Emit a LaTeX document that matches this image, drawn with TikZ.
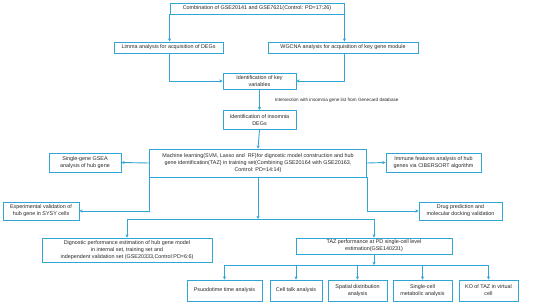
\documentclass[tikz,border=0pt]{standalone}
\usepackage{fontspec}
\setmainfont{Liberation Sans}
\usetikzlibrary{arrows.meta}
\definecolor{lineblue}{RGB}{50,165,215}
\begin{document}
\begin{tikzpicture}[x=1pt,y=-1pt,
  box/.style={draw=lineblue,line width=0.9pt,fill=white,inner sep=0pt,align=center,
    font=\fontsize{5.4}{7}\selectfont,text=black!85},
  conn/.style={draw=lineblue,line width=0.9pt},
  arr/.style={conn,-{Stealth[length=3.2pt,width=3.2pt]}},
  lbl/.style={font=\fontsize{4.6}{6}\selectfont,text=black!85,inner sep=0pt,anchor=west}]
\useasboundingbox (0,0) rectangle (553,302);
\fill[white] (0,0) rectangle (553,302);
\node[box,minimum width=174pt,minimum height=11pt] (top) at (257,8.5) {Combination of GSE20141 and GSE7621(Control: PD=17:26)};
\node[box,minimum width=109pt,minimum height=11pt] (limma) at (168.5,47.5) {Limma analysis for acquisition of DEGs};
\node[box,minimum width=150pt,minimum height=11pt] (wgcna) at (343,47.5) {WGCNA analysis for acquisition of key gene module};
\node[box,minimum width=73pt,minimum height=16pt] (key) at (259.5,81) {Identification of key\\variables};
\node[box,minimum width=73pt,minimum height=19pt] (degs) at (259.5,120) {Identification of insomnia\\DEGs};
\node[box,minimum width=217pt,minimum height=28pt] (ml) at (258,163) {Machine learning(SVM, Lasso and\ \ RF)for dignostic model construction and hub\\gene identification(TAZ) in training set(Combining GSE20164 with GSE20163,\\Control: PD=14:14)};
\node[box,minimum width=72pt,minimum height=19pt] (gsea) at (85,162.5) {Single-gene GSEA\\analysis of hub gene};
\node[box,minimum width=95pt,minimum height=19pt] (immune) at (433.5,162.5) {Immune features analysis of hub\\genes via CIBERSORT algorithm};
\node[box,minimum width=76pt,minimum height=18pt] (exp) at (41,211) {Experimental validation of\\hub gene in SYSY cells};
\node[box,minimum width=83pt,minimum height=18pt] (drug) at (460.5,211) {Drug prediction and\\molecular docking validation};
\node[box,minimum width=170pt,minimum height=24pt] (dig) at (127,250) {Dignostic performance estimation of hub gene model\\in internal set, training set and\\independent validation set (GSE20333,Control:PD=6:6)};
\node[box,minimum width=156pt,minimum height=16pt] (taz) at (374,246) {TAZ performance at PD single-cell level\\estimation(GSE140231)};
\node[box,minimum width=75pt,minimum height=21pt] (b1) at (224.5,290.5) {Psuodotime time analysis};
\node[box,minimum width=52pt,minimum height=21pt] (b2) at (296,290.5) {Cell talk analysis};
\node[box,minimum width=59pt,minimum height=21pt] (b3) at (357.5,290.5) {Spatial distribution\\analysis};
\node[box,minimum width=59pt,minimum height=21pt] (b4) at (422.5,290.5) {Single-cell\\metabolic analysis};
\node[box,minimum width=59pt,minimum height=21pt] (b5) at (488.5,290.5) {KO of TAZ in virtual\\cell};
\coordinate (j1) at (258,219);
\coordinate (j2) at (374,265);
% top split
\draw[arr] (top.south west) -- (top.south west |- limma.north);
\draw[arr] (top.south east) -- (top.south east |- wgcna.north);
\draw[arr] (limma.south -| top.south west) |- (key.west);
\draw[arr] (wgcna.south -| top.south east) |- (key.east);
\draw[arr] (key.south) -- (degs.north) node[lbl,pos=0.55,xshift=15pt] (ilbl) {Intersection with insomnia gene list from Genecard database};
\draw[arr] (degs.south) -- (ml.north);
\draw[arr] (ml.west) -- (gsea.east);
\draw[arr] (ml.east) -- (immune.west);
\draw[arr] (ml.south west) |- (exp.east);
\draw[arr] (ml.south east) |- (drug.west);
\draw[arr] (ml.south -| j1) -- (j1);
\draw[conn] (j1 -| dig.north) -- (j1 -| taz.north);
\draw[arr] (j1 -| dig.north) -- (dig.north);
\draw[arr] (j1 -| taz.north) -- (taz.north);
\draw[arr] (taz.south) -- (j2);
\draw[conn] (j2 -| b1.north) -- (j2 -| b5.north);
\foreach \b in {b1,b2,b3,b4,b5} \draw[arr] (j2 -| \b.north) -- (\b.north);
\end{tikzpicture}
\end{document}
